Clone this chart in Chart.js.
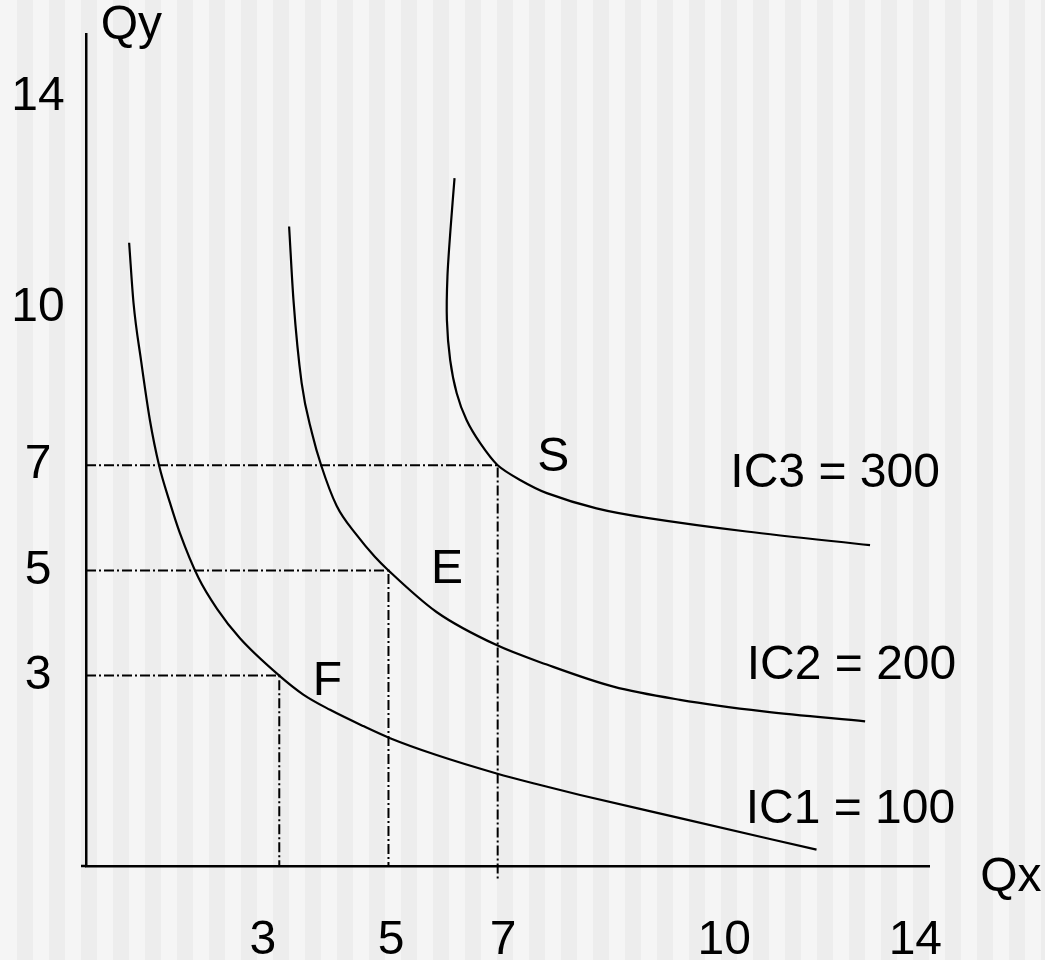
<!DOCTYPE html>
<html>
<head>
<meta charset="utf-8">
<title>Indifference curves</title>
<script src="https://cdn.jsdelivr.net/npm/chart.js@4.4.1/dist/chart.umd.min.js"></script>
<style>
  html, body { margin: 0; padding: 0; background: #f5f5f5; }
  #wrap { width: 1045px; height: 960px; }
</style>
</head>
<body>
<div id="wrap"><canvas id="icChart"></canvas></div>
<script>
// the sketch's axes cross a little below / left of zero
const X_MIN = -0.54, X_MAX = 14.9;
const Y_MIN = -0.62, Y_MAX = 15.2;

const qyTicks = [3, 5, 7, 10, 14];
const qxTickLabels = ["3", "5", "7", "10", "14"];
// where the Qx labels sit on the sketch (10 and 14 are not drawn to scale)
const qxTickAt = [2.7, 5.05, 7.1, 11.15, 14.65];

// indifference curves
const ic1 = [
    [0.25, 11.23], [0.33, 10.09], [0.47, 8.98], [0.63, 7.86], [0.8, 6.99],
    [1.0, 6.28], [1.18, 5.71], [1.52, 4.86], [1.86, 4.27], [2.28, 3.71],
    [3, 3], [3.44, 2.64], [3.93, 2.35], [4.54, 2.04], [5.03, 1.81],
    [5.88, 1.49], [6.98, 1.14], [7.78, 0.92], [8.51, 0.73], [10.34, 0.29],
    [12.84, -0.31],
];
const ic2 = [
    [3.18, 11.54], [3.26, 10.14], [3.41, 8.56], [3.6, 7.61], [3.77, 6.99],
    [4.05, 6.23], [4.42, 5.67], [4.75, 5.26], [5, 5], [5.88, 4.21],
    [6.98, 3.58], [7.9, 3.21], [9.12, 2.79], [10.34, 2.54], [11.87, 2.32],
    [13.73, 2.13],
];
const ic3 = [
    [6.21, 12.46], [6.14, 11.54], [6.08, 10.59], [6.07, 9.76], [6.13, 9.0],
    [6.25, 8.37], [6.43, 7.86], [6.68, 7.42], [7, 7], [7.41, 6.72],
    [7.9, 6.47], [8.81, 6.18], [9.73, 6.0], [11.56, 5.74], [13.82, 5.48],
];

// chosen bundles F, E, S and where each drop line stops
const bundles = [[3, 3], [5, 5], [7, 7]];
const dropEnd = [Y_MIN, Y_MIN, -0.9];

// text on the plot, in axis units
const notes = [
    { text: "Qy", x: 0.29, y: 15.35 },
    { text: "Qx", x: 16.4, y: -0.84 },
    { text: "F", x: 3.88, y: 2.89 },
    { text: "E", x: 6.07, y: 5.01 },
    { text: "S", x: 8.02, y: 7.15 },
    { text: "IC1 = 100", x: 13.46, y: 0.44 },
    { text: "IC2 = 200", x: 13.48, y: 3.19 },
    { text: "IC3 = 300", x: 13.18, y: 6.83 },
];

const FONT = "'Liberation Sans', Arial, sans-serif";
Chart.defaults.font.family = FONT;
Chart.defaults.font.size = 48;
Chart.defaults.color = "#000";

const toXY = (pts) => pts.map(([x, y]) => ({ x, y }));

const stripes = {
    id: "stripes",
    beforeDraw(chart) {
        const { ctx, width, height } = chart;
        ctx.save();
        ctx.fillStyle = "#f5f5f5";
        ctx.fillRect(0, 0, width, height);
        ctx.fillStyle = "#ededed";
        for (let x = 17; x < width; x += 32) ctx.fillRect(x, 0, 16, height);
        ctx.restore();
    },
};

const notesPlugin = {
    id: "notes",
    afterDatasetsDraw(chart) {
        const { ctx, scales } = chart;
        ctx.save();
        ctx.font = "48px " + FONT;
        ctx.fillStyle = "#000";
        ctx.textAlign = "center";
        ctx.textBaseline = "middle";
        notes.forEach((n) => {
            ctx.fillText(n.text, scales.x.getPixelForValue(n.x), scales.y.getPixelForValue(n.y));
        });
        // the Qx axis pokes out a few px left of the Qy axis
        const a = chart.chartArea;
        ctx.strokeStyle = "#000";
        ctx.lineWidth = 2.5;
        ctx.beginPath();
        ctx.moveTo(a.left - 5, a.bottom);
        ctx.lineTo(a.left, a.bottom);
        ctx.stroke();
        ctx.restore();
    },
};

// IC1 and IC2 run left to right, so a monotone spline fits them;
// IC3 bends back at the top and gets a plain bezier
const curve = (pts, monotone) => ({
    data: toXY(pts),
    showLine: true,
    borderColor: "#000",
    borderWidth: 2.2,
    pointRadius: 0,
    tension: monotone ? 0 : 0.3,
    cubicInterpolationMode: monotone ? "monotone" : "default",
    fill: false,
});

const drops = bundles.map(([bx, by], i) => ({
    data: [
        { x: X_MIN, y: by },
        { x: bx, y: by },
        { x: bx, y: dropEnd[i] },
    ],
    showLine: true,
    borderColor: "#000",
    borderWidth: 2,
    borderDash: [10, 3, 2, 3],
    pointRadius: 0,
    tension: 0,
    clip: false,
}));

const noPadding = (s) => {
    s.paddingTop = 0;
    s.paddingBottom = 0;
    s.paddingLeft = 0;
    s.paddingRight = 0;
};

new Chart(document.getElementById("icChart"), {
    type: "scatter",
    data: {
        datasets: [...drops, curve(ic1, true), curve(ic2, true), curve(ic3, false)],
    },
    options: {
        responsive: true,
        maintainAspectRatio: false,
        animation: false,
        layout: { padding: { top: 34, right: 116, left: 0, bottom: 0 } },
        plugins: {
            legend: { display: false },
            tooltip: { enabled: false },
        },
        scales: {
            x: {
                type: "linear",
                min: X_MIN,
                max: X_MAX,
                grid: { display: false, drawTicks: false },
                border: { display: true, color: "#000", width: 2.5 },
                afterBuildTicks: (s) => {
                    s.ticks = qxTickAt.map((v) => ({ value: v }));
                },
                afterFit: (s) => {
                    s.height = 94;
                    noPadding(s);
                },
                ticks: {
                    autoSkip: false,
                    maxRotation: 0,
                    padding: 46,
                    callback: (v, i) => qxTickLabels[i],
                },
            },
            y: {
                type: "linear",
                min: Y_MIN,
                max: Y_MAX,
                grid: { display: false, drawTicks: false },
                border: { display: true, color: "#000", width: 2.5 },
                afterBuildTicks: (s) => {
                    s.ticks = qyTicks.map((v) => ({ value: v }));
                },
                afterFit: (s) => {
                    s.width = 86;
                    noPadding(s);
                },
                ticks: {
                    autoSkip: false,
                    crossAlign: "center",
                    padding: 21.3,
                    callback: (v) => String(v),
                },
            },
        },
    },
    plugins: [stripes, notesPlugin],
});
</script>
</body>
</html>
